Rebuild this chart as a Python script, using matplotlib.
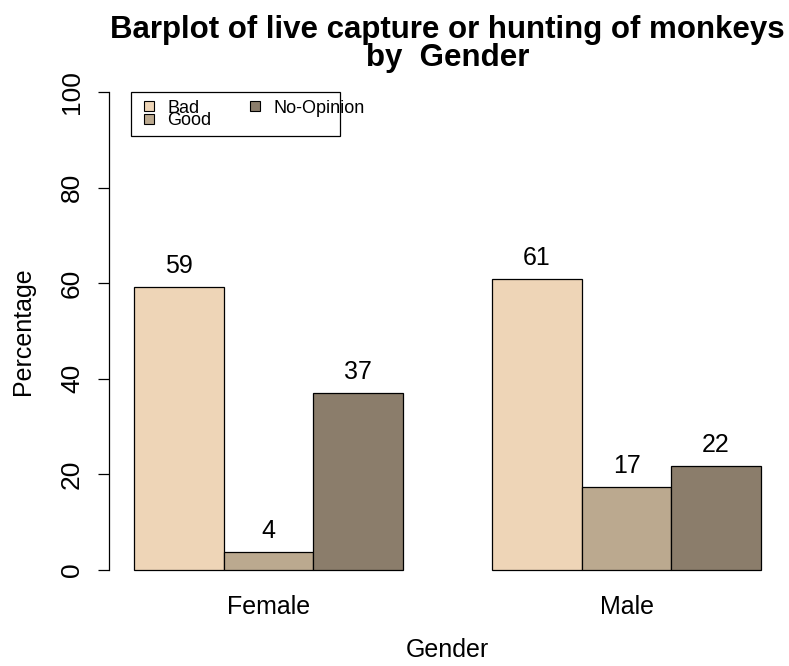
import matplotlib
matplotlib.use('Agg')
import matplotlib.pyplot as plt
from matplotlib.lines import Line2D
from matplotlib.patches import Rectangle

# Data
genders = ['Female', 'Male']
opinions = ['Bad', 'Good', 'No-Opinion']
bad = [59.3, 60.9]
good = [3.7, 17.4]
no_opinion = [37.0, 21.7]
colors = ['#EED5B7', '#BBA98F', '#8B7D6B']

plt.rcParams['font.family'] = ['Liberation Sans', 'DejaVu Sans']

fig = plt.figure(figsize=(7.89, 6.66), dpi=100)
ax = fig.add_axes([0.1381, 0.1156, 0.858, 0.7748])

series = [bad, good, no_opinion]
# R style beside barplot: width 1, space c(0, 1)
for g in range(len(genders)):
    for k, vals in enumerate(series):
        left = 1 + g * 4 + k
        ax.bar(left + 0.5, vals[g], width=1, color=colors[k],
               edgecolor='black', linewidth=0.9)
        ax.annotate('%d' % round(vals[g]), (left + 0.5, vals[g]),
                    xytext=(0, 15), textcoords='offset points',
                    ha='center', va='center', fontsize=18)

ax.set_xlim(0.72, 8.28)
ax.set_ylim(-4, 104)
ax.set_xticks([2.5, 6.5])
ax.set_xticklabels(genders, fontsize=18)
ax.tick_params(axis='x', length=0, pad=4)
ax.set_yticks([0, 20, 40, 60, 80, 100])
ax.set_yticklabels(['0', '20', '40', '60', '80', '100'], fontsize=19,
                   rotation=90, va='center')
ax.tick_params(axis='y', length=8, width=0.9, pad=10)
for s in ['top', 'right', 'bottom']:
    ax.spines[s].set_visible(False)
ax.spines['left'].set_bounds(0, 100)
ax.spines['left'].set_linewidth(0.9)

ax.set_xlabel('Gender', fontsize=18, labelpad=14)
ax.set_ylabel('Percentage', fontsize=18, labelpad=18)
ax.set_title('Barplot of live capture or hunting of monkeys\nby  Gender',
             fontsize=22.5, fontweight='bold', pad=5, linespacing=0.93)

# legend
handles = [Line2D([], [], marker='s', linestyle='none', markersize=6.5,
                  markerfacecolor=c, markeredgecolor='black',
                  markeredgewidth=0.8) for c in colors]
ax.add_patch(Rectangle((0.967, 90.8), 2.333, 9.2, fill=False,
                       edgecolor='black', linewidth=0.9, clip_on=False))
ax.legend(handles, opinions, ncol=2, loc='upper left',
          bbox_to_anchor=(1.12, 98.4), bbox_transform=ax.transData,
          frameon=False, fontsize=13, handlelength=0.45,
          labelspacing=-0.26, columnspacing=2.2, handletextpad=0.8,
          borderpad=0, borderaxespad=0)

fig.savefig('out.png', dpi=100)
